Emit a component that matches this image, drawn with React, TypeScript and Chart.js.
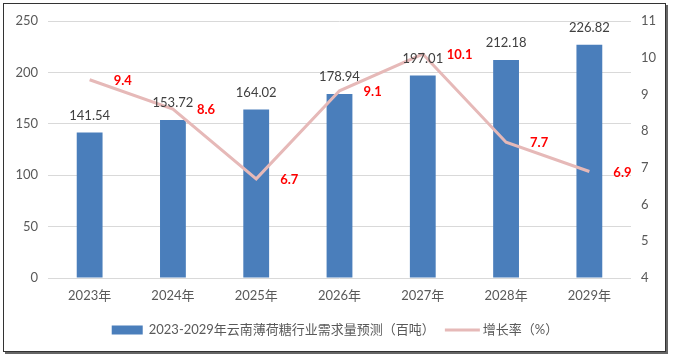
import React, { useEffect, useRef } from "react";
import { Chart, registerables } from "chart.js";

Chart.register(...registerables);

const categories = ["2023年", "2024年", "2025年", "2026年", "2027年", "2028年", "2029年"];
const demand = [141.54, 153.72, 164.02, 178.94, 197.01, 212.18, 226.82];
const growth = [9.4, 8.6, 6.7, 9.1, 10.1, 7.7, 6.9];
const barLegend = "2023-2029年云南薄荷糖行业需求量预测（百吨）";
const lineLegend = "增长率（%）";

const FONT = "Lato, 'Noto Sans CJK SC', sans-serif";
const BAR_COLOR = "#4a7ebb";
const LINE_COLOR = "#e6b9b8";
const TEXT_COLOR = "#595959";

const labelPlugin = {
  id: "labelsAndLegend",
  afterDatasetsDraw(chart: any) {
    const ctx = chart.ctx;
    ctx.save();
    const barMeta = chart.getDatasetMeta(0);
    ctx.font = `13px ${FONT}`;
    ctx.fillStyle = "#404040";
    ctx.textAlign = "center";
    ctx.textBaseline = "middle";
    barMeta.data.forEach((el: any, i: number) => {
      ctx.fillText(demand[i].toFixed(2), el.x, el.y - 17);
    });
    const lineMeta = chart.getDatasetMeta(1);
    ctx.font = `bold 13px ${FONT}`;
    ctx.fillStyle = "#ff0000";
    ctx.textAlign = "left";
    lineMeta.data.forEach((el: any, i: number) => {
      ctx.fillText(growth[i].toFixed(1), el.x + 24, el.y + 1);
    });

    // legend
    ctx.font = `13px ${FONT}`;
    const w1 = ctx.measureText(barLegend).width;
    const w2 = ctx.measureText(lineLegend).width;
    const total = 31 + 6 + w1 + 10 + 35 + 3 + w2;
    let x = 335 - total / 2;
    const y = 330;
    ctx.fillStyle = BAR_COLOR;
    ctx.fillRect(x, y - 4.5, 31, 9);
    x += 37;
    ctx.fillStyle = TEXT_COLOR;
    ctx.textAlign = "left";
    ctx.fillText(barLegend, x, y);
    x += w1 + 10;
    ctx.strokeStyle = LINE_COLOR;
    ctx.lineWidth = 3;
    ctx.beginPath();
    ctx.moveTo(x, y);
    ctx.lineTo(x + 35, y);
    ctx.stroke();
    x += 38;
    ctx.fillText(lineLegend, x, y);
    ctx.restore();
  },
};

export default function App() {
  const ref = useRef<HTMLCanvasElement>(null);
  useEffect(() => {
    document.body.style.margin = "0";
    const chart = new Chart(ref.current as HTMLCanvasElement, {
      type: "bar",
      data: {
        labels: categories,
        datasets: [
          {
            type: "bar",
            label: barLegend,
            data: demand,
            backgroundColor: BAR_COLOR,
            borderWidth: 0,
            yAxisID: "y",
            order: 1,
            categoryPercentage: 1,
            barPercentage: 0.31,
          },
          {
            type: "line",
            label: lineLegend,
            data: growth,
            borderColor: LINE_COLOR,
            borderWidth: 3,
            pointRadius: 0,
            tension: 0,
            yAxisID: "y1",
            order: 0,
          } as any,
        ],
      },
      options: {
        animation: false,
        responsive: false,
        layout: { padding: { top: 21, left: 0, right: 0, bottom: 0 } },
        plugins: { legend: { display: false }, tooltip: { enabled: false } },
        scales: {
          x: {
            grid: { display: false, drawTicks: false },
            border: { display: false },
            ticks: { color: TEXT_COLOR, font: { family: FONT, size: 13 }, padding: 10, maxRotation: 0 },
            afterFit(s: any) {
              s.height = 82;
            },
          },
          y: {
            position: "left",
            min: 0,
            max: 250,
            ticks: { stepSize: 50, color: TEXT_COLOR, font: { family: FONT, size: 13 }, padding: 10 },
            grid: { color: "#d9d9d9", lineWidth: 1, drawTicks: false },
            border: { display: false },
            afterFit(s: any) {
              s.width = 48;
            },
          },
          y1: {
            position: "right",
            min: 4,
            max: 11,
            ticks: { stepSize: 1, color: TEXT_COLOR, font: { family: FONT, size: 13 }, padding: 10 },
            grid: { display: false, drawTicks: false },
            border: { display: false },
            afterFit(s: any) {
              s.width = 44;
            },
          },
        },
      },
      plugins: [labelPlugin],
    });
    return () => chart.destroy();
  }, []);
  return (
    <div style={{ position: "fixed", left: 0, top: 0, width: 675, height: 360, background: "#fff" }}>
      <canvas ref={ref} width={675} height={360} style={{ position: "absolute", left: 0, top: 0 }} />
      <div
        style={{
          position: "absolute",
          left: 3,
          top: 3,
          width: 663,
          height: 349,
          boxSizing: "border-box",
          border: "1px solid #333",
          boxShadow: "2px 2px 0 #666",
          pointerEvents: "none",
        }}
      />
    </div>
  );
}
